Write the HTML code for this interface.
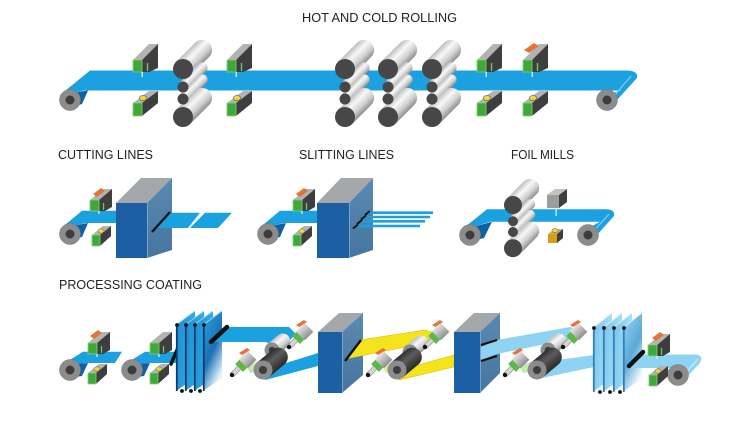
<!DOCTYPE html>
<html><head><meta charset="utf-8">
<style>
html,body{margin:0;padding:0;background:#fff;}
svg{display:block;}
text{font-family:"Liberation Sans",sans-serif;font-size:12.5px;fill:#222;}
</style></head><body>
<svg width="744" height="421" viewBox="0 0 744 421" xmlns="http://www.w3.org/2000/svg">
<defs>
 <linearGradient id="cyl" x1="0" y1="0" x2="0" y2="1">
  <stop offset="0" stop-color="#bdbdbd"/><stop offset="0.35" stop-color="#f8f8f8"/>
  <stop offset="0.7" stop-color="#d0d0d0"/><stop offset="1" stop-color="#8e8e8e"/>
 </linearGradient>
 <linearGradient id="dcyl" x1="0" y1="0" x2="0" y2="1">
  <stop offset="0" stop-color="#2e2e2e"/><stop offset="0.4" stop-color="#5c5c5c"/>
  <stop offset="1" stop-color="#2a2a2a"/>
 </linearGradient>
 <linearGradient id="hous" x1="0" y1="0" x2="0" y2="1">
  <stop offset="0" stop-color="#e6e6e6"/><stop offset="1" stop-color="#8f8f8f"/>
 </linearGradient>
 <linearGradient id="pB" x1="0" y1="0" x2="1" y2="0.3">
  <stop offset="0" stop-color="#1a8bcd"/><stop offset="1" stop-color="#34aeea"/>
 </linearGradient>
 <linearGradient id="pBl" x1="0" y1="0" x2="0.5" y2="1">
  <stop offset="0" stop-color="#2aa6e6"/><stop offset="0.6" stop-color="#1b70b5"/>
  <stop offset="1" stop-color="#e3f2fb"/>
 </linearGradient>
 <linearGradient id="pL" x1="0" y1="0" x2="1" y2="0.3">
  <stop offset="0" stop-color="#74c4ec"/><stop offset="1" stop-color="#ace0f7"/>
 </linearGradient>
 <linearGradient id="pLl" x1="0" y1="0" x2="0.5" y2="1">
  <stop offset="0" stop-color="#9ad7f4"/><stop offset="0.6" stop-color="#5aa8d8"/>
  <stop offset="1" stop-color="#eef7fc"/>
 </linearGradient>
 <linearGradient id="side" x1="0" y1="0" x2="0" y2="1">
  <stop offset="0" stop-color="#5a8ab2"/><stop offset="1" stop-color="#46769f"/>
 </linearGradient>

 <g id="endroll">
  <circle r="10.5" fill="#8c8c8c" stroke="#777" stroke-width="0.5"/>
  <circle r="4.5" fill="#3d3d3d"/>
 </g>

 <g id="stack">
  <g transform="rotate(-45)"><path d="M0,-10H27A10,10 0 0 1 27,10H0Z" fill="url(#cyl)"/></g>
  <g transform="translate(0,18) rotate(-45)"><path d="M0,-5.5H27A5.5,5.5 0 0 1 27,5.5H0Z" fill="url(#cyl)"/></g>
  <g transform="translate(0,30) rotate(-45)"><path d="M0,-5.5H27A5.5,5.5 0 0 1 27,5.5H0Z" fill="url(#cyl)"/></g>
  <g transform="translate(0,48) rotate(-45)"><path d="M0,-10H27A10,10 0 0 1 27,10H0Z" fill="url(#cyl)"/></g>
  <circle r="10" fill="#474747"/>
  <circle cy="18" r="5.5" fill="#474747"/>
  <circle cy="30" r="5.5" fill="#474747"/>
  <circle cy="48" r="10" fill="#474747"/>
 </g>

 <g id="ubA">
  <polygon points="0,0 9,0 25,-16 16,-16" fill="#b3b3b3"/>
  <polygon points="9,0 25,-16 25,8 16,12 9,12" fill="#3e3e3e"/>
  <line x1="14.5" y1="3" x2="14.5" y2="11" stroke="#6cc75c" stroke-width="1.4"/>
  <rect x="0" y="0" width="9" height="12" fill="#3ea83a" stroke="#86d272" stroke-width="0.8"/>
  <rect x="8.6" y="12" width="1.3" height="5" fill="#d6f6ef"/>
 </g>
 <g id="lbA">
  <polygon points="0,0 9,0 25,-12 16,-12" fill="#b3b3b3"/>
  <polygon points="9,0 25,-12 25,0 9,13" fill="#3e3e3e"/>
  <rect x="0" y="0" width="9" height="13" fill="#3ea83a" stroke="#86d272" stroke-width="0.8"/>
  <ellipse cx="10" cy="-5" rx="3.6" ry="2.6" fill="#f3d53c" stroke="#555" stroke-width="0.6"/>
 </g>
 <g id="ubB">
  <polygon points="0,0 9,0 22,-11 13,-11" fill="#b3b3b3"/>
  <polygon points="9,0 22,-11 22,7 15,11 9,11" fill="#3e3e3e"/>
  <line x1="13.5" y1="3" x2="13.5" y2="10" stroke="#6cc75c" stroke-width="1.3"/>
  <rect x="0" y="0" width="9" height="11" fill="#3ea83a" stroke="#86d272" stroke-width="0.8"/>
  <rect x="8.4" y="11" width="1.2" height="3" fill="#d6f6ef"/>
 </g>
 <g id="lbB">
  <polygon points="0,0 8,0 19,-9 11,-9" fill="#b3b3b3"/>
  <polygon points="8,0 19,-9 19,1 8,11" fill="#3e3e3e"/>
  <rect x="0" y="0" width="8" height="11" fill="#3ea83a" stroke="#86d272" stroke-width="0.8"/>
  <ellipse cx="9" cy="-4" rx="3" ry="2.2" fill="#f3d53c" stroke="#555" stroke-width="0.5"/>
 </g>
 <g id="su">
  <g transform="rotate(-45)">
   <rect x="0" y="-2.3" width="11" height="4.6" fill="#d4d4d4" stroke="#8a8a8a" stroke-width="0.6"/>
   <rect x="10" y="-5.5" width="6" height="11" fill="#5cb848"/>
   <rect x="16" y="-6.5" width="12" height="13" fill="url(#hous)"/>
  </g>
  <circle r="2.2" fill="#111"/>
  <path d="M7,-22 L15,-27 L18,-25 L10,-20Z" fill="#e4733a"/>
 </g>
 <g id="plate1">
  <polygon points="0,0 19,-14 19,53 0,66" fill="url(#pB)"/>
  <line x1="0.8" y1="0" x2="0.8" y2="66" stroke="#0f3d6b" stroke-width="1.8"/>
  <line x1="0" y1="0" x2="19" y2="-14" stroke="#8fd8f8" stroke-width="0.8"/>
  <circle cx="1" cy="0" r="1.9" fill="#111"/>
 </g>
 <g id="plate2">
  <polygon points="0,0 19,-15 19,50 0,64" fill="url(#pL)"/>
  <line x1="0.8" y1="0" x2="0.8" y2="64" stroke="#2f7fb8" stroke-width="1.8"/>
  <line x1="0" y1="0" x2="19" y2="-15" stroke="#d5f0fc" stroke-width="0.8"/>
  <circle cx="1" cy="0" r="1.9" fill="#111"/>
 </g>
</defs>

<!-- TITLES -->
<text x="302" y="22" textLength="155" lengthAdjust="spacingAndGlyphs">HOT AND COLD ROLLING</text>
<text x="58" y="159" textLength="95" lengthAdjust="spacingAndGlyphs">CUTTING LINES</text>
<text x="299" y="159" textLength="95" lengthAdjust="spacingAndGlyphs">SLITTING LINES</text>
<text x="511" y="159" textLength="63" lengthAdjust="spacingAndGlyphs">FOIL MILLS</text>
<text x="59" y="289" textLength="143" lengthAdjust="spacingAndGlyphs">PROCESSING COATING</text>

<!-- ===== TOP ROW ===== -->
<path d="M60,95 L90,70.5 L627,70.5 Q638,70.5 637,78 L617,100 L604,96 L621,90.5 L84,90.5 Z" fill="#1ba0e0"/>
<path d="M62,94 L88,90.5 L82,104 L68,108 Z" fill="#12609f"/>
<line x1="631" y1="76" x2="614" y2="96" stroke="#7fd0f5" stroke-width="1.2"/>
<use href="#endroll" x="70" y="100"/>
<use href="#endroll" x="607" y="100"/>

<use href="#ubA" x="133" y="60"/>
<use href="#ubA" x="227" y="60"/>
<use href="#ubA" x="477" y="60"/>
<use href="#ubA" x="523" y="60"/>
<use href="#lbA" x="133" y="103"/>
<use href="#lbA" x="227" y="103"/>
<use href="#lbA" x="477" y="103"/>
<use href="#lbA" x="523" y="103"/>
<path d="M524,50 L534,43 L539,46 L529,53 Z" fill="#e4733a"/>

<use href="#stack" x="183" y="69"/>
<use href="#stack" x="345" y="69"/>
<use href="#stack" x="388" y="69"/>
<use href="#stack" x="432" y="69"/>

<!-- ===== CUTTING LINES ===== -->
<path d="M60,229 L82,210.7 L118,210.7 L118,223 L86,223 Z" fill="#1ba0e0"/>
<path d="M62,228 L88,223 L82,237 L68,240 Z" fill="#12609f"/>
<use href="#endroll" x="70" y="234"/>
<use href="#ubB" x="90" y="200"/>
<path d="M93,194 L101,188 L105,191 L97,197 Z" fill="#e4733a"/>
<use href="#lbB" x="92" y="235"/>
<rect x="116" y="203" width="31" height="55" fill="#1c5fa2"/>
<polygon points="116,203 147,203 172,178 141,178" fill="#a5a8ab"/>
<polygon points="147,203 172,178 172,250 147,258" fill="url(#side)"/>
<line x1="147.5" y1="203" x2="147.5" y2="258" stroke="#8db4d6" stroke-width="0.7"/>
<polygon points="170,212.7 200,212.7 188,228 155,228" fill="#1ba0e0"/>
<polygon points="205,212.7 232,212.7 218,228 190,228" fill="#1ba0e0"/>
<line x1="152" y1="232" x2="170" y2="212" stroke="#111" stroke-width="2.4"/>

<!-- ===== SLITTING LINES ===== -->
<path d="M258,229 L280,210.7 L318,210.7 L318,223 L284,223 Z" fill="#1ba0e0"/>
<path d="M260,228 L286,223 L280,237 L266,240 Z" fill="#12609f"/>
<use href="#endroll" x="268" y="234"/>
<use href="#ubB" x="293" y="200"/>
<path d="M296,194 L304,188 L308,191 L300,197 Z" fill="#e4733a"/>
<use href="#lbB" x="293" y="235"/>
<rect x="317" y="203" width="32" height="55" fill="#1c5fa2"/>
<polygon points="317,203 349,203 373,178 341,178" fill="#a5a8ab"/>
<polygon points="349,203 373,178 373,250 349,258" fill="url(#side)"/>
<line x1="349.5" y1="203" x2="349.5" y2="258" stroke="#8db4d6" stroke-width="0.7"/>
<g stroke="#1ba0e0" stroke-width="2.6">
 <line x1="368" y1="212.7" x2="433" y2="212.7"/>
 <line x1="364" y1="217" x2="430" y2="217"/>
 <line x1="360" y1="221.3" x2="425" y2="221.3"/>
 <line x1="356" y1="226" x2="420" y2="226"/>
</g>
<g stroke="#111" stroke-width="2">
 <line x1="365" y1="215" x2="370" y2="211"/>
 <line x1="361" y1="219.5" x2="366" y2="215.5"/>
 <line x1="357" y1="224" x2="362" y2="220"/>
 <line x1="353" y1="228.5" x2="358" y2="224.5"/>
</g>

<!-- ===== FOIL MILLS ===== -->
<path d="M460,231 L487,209.3 L606,209.3 Q615,209.3 614,216 L596,236 L583,231 L600,221.7 L490,221.7 Z" fill="#1ba0e0"/>
<path d="M462,230 L492,221.7 L484,238 L468,242 Z" fill="#12609f"/>
<line x1="609" y1="214" x2="593" y2="232" stroke="#7fd0f5" stroke-width="1.2"/>
<use href="#endroll" x="470" y="235"/>
<use href="#endroll" x="588" y="235"/>
<g transform="translate(513,205) scale(0.9)"><use href="#stack"/></g>
<polygon points="547,195 559,195 567,189 555,189" fill="#c2c2c2"/>
<rect x="547" y="195" width="12" height="13" fill="#9d9d9d"/>
<polygon points="559,195 567,189 567,202 559,208" fill="#3f3f3f"/>
<rect x="555.5" y="208" width="1.3" height="8" fill="#d6f6ef"/>
<polygon points="548,234 557,234 563,229 554,229" fill="#c9b36a"/>
<rect x="548" y="234" width="9" height="9" fill="#d4a017"/>
<polygon points="557,234 563,229 563,238 557,243" fill="#3f3f3f"/>
<ellipse cx="555" cy="230.5" rx="3" ry="2" fill="#f3d53c" stroke="#555" stroke-width="0.5"/>

<!-- ===== PROCESSING COATING ===== -->
<!-- unit 1 -->
<path d="M60,366 L83,351.7 L122,351.7 L115,363 L86,363 Z" fill="#1ba0e0"/>
<path d="M62,365 L88,363 L82,376 L68,378 Z" fill="#12609f"/>
<use href="#endroll" x="70" y="370"/>
<use href="#ubB" x="88" y="343"/>
<path d="M90,336 L98,330 L102,333 L94,339 Z" fill="#e4733a"/>
<use href="#lbB" x="88" y="373"/>
<!-- unit 2 -->
<path d="M122,366 L145,351.7 L177,351.7 L177,363 L148,363 Z" fill="#1ba0e0"/>
<path d="M124,365 L150,363 L144,376 L130,378 Z" fill="#12609f"/>
<use href="#endroll" x="132" y="370"/>
<use href="#ubB" x="150" y="343"/>
<use href="#lbB" x="150" y="373"/>
<line x1="171" y1="364" x2="177" y2="350" stroke="#111" stroke-width="3.5" stroke-linecap="round"/>

<!-- tank 1 -->
<use href="#plate1" x="176" y="325"/>
<use href="#plate1" x="185" y="325"/>
<use href="#plate1" x="194" y="325"/>
<g transform="translate(203,325)">
 <polygon points="0,0 19,-14 19,53 0,66" fill="url(#pBl)"/>
 <line x1="0.8" y1="0" x2="0.8" y2="66" stroke="#0f3d6b" stroke-width="1.8"/>
 <line x1="0" y1="0" x2="19" y2="-14" stroke="#8fd8f8" stroke-width="0.8"/>
 <circle cx="1" cy="0" r="1.9" fill="#111"/>
</g>
<circle cx="182" cy="391" r="1.9" fill="#111"/>
<circle cx="191" cy="391" r="1.9" fill="#111"/>
<circle cx="200" cy="391" r="1.9" fill="#111"/>

<!-- blue loop A -->
<path d="M211,342 L227,327 L289,327 L296,334 L280,350 L266,342 Z" fill="#1ba0e0"/>
<line x1="211" y1="342" x2="227" y2="327" stroke="#111" stroke-width="4.5" stroke-linecap="round"/>
<path d="M258,372 L283,364 L318,353 L318,366 L265,380 Z" fill="#1ba0e0"/>
<polygon points="246,366 262,360 268,370 250,373" fill="#c6e9b0"/>
<g transform="translate(272,350) rotate(-40)"><path d="M0,-7.5H14A7.5,7.5 0 0 1 14,7.5H0Z" fill="url(#cyl)"/></g>
<circle cx="272" cy="350" r="7.5" fill="#8c8c8c"/><circle cx="272" cy="350" r="3.3" fill="#3d3d3d"/>
<g transform="translate(263,370) rotate(-40)"><path d="M0,-9.5H20A9.5,9.5 0 0 1 20,9.5H0Z" fill="url(#dcyl)"/></g>
<circle cx="263" cy="370" r="9.5" fill="#8c8c8c"/><circle cx="263" cy="370" r="4" fill="#3d3d3d"/>
<use href="#su" x="232" y="375"/>
<use href="#su" x="289" y="347"/>

<!-- box 2 -->
<rect x="318" y="332" width="24" height="61" fill="#1c5fa2"/>
<polygon points="318,332 342,332 363,313 339,313" fill="#a5a8ab"/>
<polygon points="342,332 363,313 363,375 342,393" fill="url(#side)"/>
<line x1="342.5" y1="332" x2="342.5" y2="393" stroke="#8db4d6" stroke-width="0.7"/>

<!-- yellow loop B -->
<path d="M346,359 L360,340 L425,330 L437,334 L419,354 L405,347 Z" fill="#f4e31d" stroke="#cdbb00" stroke-width="0.5"/>
<line x1="345" y1="361" x2="361" y2="340" stroke="#111" stroke-width="2.4"/>
<path d="M392,372 L407,368 L454,355 L454,367 L399,380 Z" fill="#f4e31d" stroke="#cdbb00" stroke-width="0.5"/>
<polygon points="382,366 396,361 402,371 386,373" fill="#d8ec9a"/>
<g transform="translate(410,352) rotate(-40)"><path d="M0,-7.5H14A7.5,7.5 0 0 1 14,7.5H0Z" fill="url(#cyl)"/></g>
<circle cx="410" cy="352" r="7.5" fill="#8c8c8c"/><circle cx="410" cy="352" r="3.3" fill="#3d3d3d"/>
<g transform="translate(397,370) rotate(-40)"><path d="M0,-9.5H20A9.5,9.5 0 0 1 20,9.5H0Z" fill="url(#dcyl)"/></g>
<circle cx="397" cy="370" r="9.5" fill="#8c8c8c"/><circle cx="397" cy="370" r="4" fill="#3d3d3d"/>
<use href="#su" x="368" y="375"/>
<use href="#su" x="425" y="347"/>

<!-- box 3 -->
<rect x="454" y="332" width="26" height="61" fill="#1c5fa2"/>
<polygon points="454,332 480,332 500,313 474,313" fill="#a5a8ab"/>
<polygon points="480,332 500,313 500,373 480,393" fill="url(#side)"/>
<line x1="480.5" y1="332" x2="480.5" y2="393" stroke="#8db4d6" stroke-width="0.7"/>

<!-- light blue loop C -->
<path d="M481,347 L497,340 L570,327 L580,331 L558,352 L546,344 L497,354 L481,360 Z" fill="#8fd3f3"/>
<line x1="481" y1="345" x2="497" y2="340" stroke="#111" stroke-width="2.2"/>
<line x1="481" y1="361" x2="497" y2="356" stroke="#111" stroke-width="2.2"/>
<path d="M532,372 L543,362 L594,355 L594,367 L537,379 Z" fill="#8fd3f3"/>
<polygon points="519,366 533,361 539,371 523,373" fill="#c6e9b0"/>
<g transform="translate(548,350) rotate(-40)"><path d="M0,-7.5H14A7.5,7.5 0 0 1 14,7.5H0Z" fill="url(#cyl)"/></g>
<circle cx="548" cy="350" r="7.5" fill="#8c8c8c"/><circle cx="548" cy="350" r="3.3" fill="#3d3d3d"/>
<g transform="translate(537,370) rotate(-40)"><path d="M0,-9.5H20A9.5,9.5 0 0 1 20,9.5H0Z" fill="url(#dcyl)"/></g>
<circle cx="537" cy="370" r="9.5" fill="#8c8c8c"/><circle cx="537" cy="370" r="4" fill="#3d3d3d"/>
<use href="#su" x="505" y="375"/>
<use href="#su" x="563" y="347"/>

<!-- tank 2 -->
<use href="#plate2" x="593" y="328"/>
<use href="#plate2" x="603" y="328"/>
<use href="#plate2" x="613" y="328"/>
<g transform="translate(623,328)">
 <polygon points="0,0 19,-15 19,50 0,64" fill="url(#pLl)"/>
 <line x1="0.8" y1="0" x2="0.8" y2="64" stroke="#2f7fb8" stroke-width="1.8"/>
 <line x1="0" y1="0" x2="19" y2="-15" stroke="#d5f0fc" stroke-width="0.8"/>
 <circle cx="1" cy="0" r="1.9" fill="#111"/>
</g>
<circle cx="600" cy="392" r="1.9" fill="#111"/>
<circle cx="610" cy="392" r="1.9" fill="#111"/>
<circle cx="620" cy="392" r="1.9" fill="#111"/>

<!-- final unit -->
<path d="M629,368 L643,354.5 L695,354.5 Q704,355 700,363 L685,379 L670,372 L678,368 Z" fill="#8fd3f3"/>
<line x1="698" y1="359" x2="683" y2="376" stroke="#c9ecfb" stroke-width="1.2"/>
<line x1="629" y1="366" x2="643" y2="352" stroke="#111" stroke-width="4.5" stroke-linecap="round"/>
<use href="#endroll" x="678" y="375"/>
<use href="#ubB" x="648" y="345"/>
<path d="M652,338 L660,332 L664,335 L656,341 Z" fill="#e4733a"/>
<use href="#lbB" x="649" y="375"/>
</svg>
</body></html>
